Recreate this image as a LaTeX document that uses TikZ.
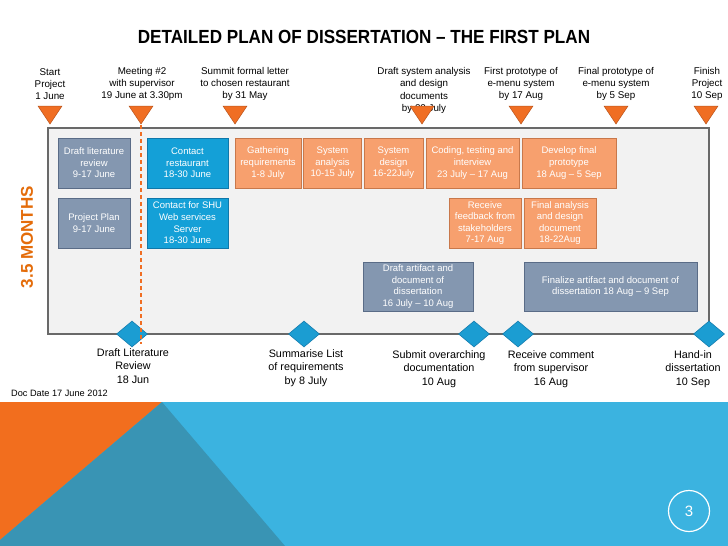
\documentclass[tikz,border=0pt]{standalone}
\usepackage{fontspec}
\setmainfont{Liberation Sans}
\usepackage{tikz}
\usetikzlibrary{shapes.geometric, positioning}
\definecolor{mkorange}{RGB}{240,110,35}
\definecolor{mkline}{RGB}{185,85,30}
\definecolor{monthorange}{RGB}{228,108,10}
\definecolor{greyfill}{RGB}{132,151,176}
\definecolor{greyline}{RGB}{90,108,135}
\definecolor{bluefill}{RGB}{20,160,215}
\definecolor{blueline}{RGB}{15,120,170}
\definecolor{orangefill}{RGB}{247,160,110}
\definecolor{orangeline}{RGB}{200,120,75}
\definecolor{panelfill}{RGB}{242,242,242}
\definecolor{panelline}{RGB}{105,105,105}
\definecolor{msfill}{RGB}{27,157,210}
\definecolor{msline}{RGB}{20,125,175}
\definecolor{bandblue}{RGB}{59,179,224}
\definecolor{bandteal}{RGB}{57,148,180}
\definecolor{bandorange}{RGB}{242,110,30}
\tikzset{
  greybox/.style={rectangle, draw=greyline, fill=greyfill, text=white,
    align=center, inner sep=1pt, line width=0.8pt,
    font=\fontsize{9.5}{11.6}\selectfont},
  bluebox/.style={greybox, draw=blueline, fill=bluefill},
  orangebox/.style={greybox, draw=orangeline, fill=orangefill},
  milestone/.style={diamond, draw=msline, fill=msfill, line width=0.6pt,
    minimum width=31pt, minimum height=26pt, inner sep=0pt},
  toplabel/.style={align=center, inner sep=0pt,
    font=\fontsize{9.8}{12.3}\selectfont},
  bottomlabel/.style={align=center, inner sep=0pt,
    font=\fontsize{10.8}{13.3}\selectfont},
  marker/.style={fill=mkorange, draw=mkline, line width=0.5pt},
  panel/.style={fill=panelfill, draw=panelline, line width=1.6pt}
}
\begin{document}
\begin{tikzpicture}[x=1pt, y=-1pt]
  \useasboundingbox (0,0) rectangle (728,546);
  \fill[white] (0,0) rectangle (728,546);
  \node[font=\bfseries\fontsize{19}{22}\selectfont] (title) at (364,37)
    {\scalebox{0.9}[1]{DETAILED PLAN OF DISSERTATION – THE FIRST PLAN}};

  \node[toplabel] (t1) at (50,84) {Start\\Project\\1 June};
  \node[toplabel] (t2) at (142,84) {Meeting \#2\\with supervisor\\19 June at 3.30pm};
  \node[toplabel] (t3) at (245,84) {Summit formal letter\\to chosen restaurant\\by 31 May};
  \node[toplabel] (t4) at (424,90.5) {Draft system analysis\\and design\\documents\\by 22 July};
  \node[toplabel] (t5) at (521,84) {First prototype of\\e-menu system\\by 17 Aug};
  \node[toplabel] (t6) at (616,84) {Final prototype of\\e-menu system\\by 5 Sep};
  \node[toplabel] (t7) at (707,84) {Finish\\Project\\10 Sep};
  \foreach \tx in {50,141,235,422,521,616,706}
    \filldraw[marker] (\tx-12,106) -- (\tx+12,106) -- (\tx,124) -- cycle;

  \filldraw[panel] (48,128) rectangle (709,334);

  \node[rotate=90, text=monthorange, font=\bfseries\fontsize{17}{20}\selectfont]
    (months) at (27,237) {3.5 MONTHS};

  \node[greybox, minimum width=72pt, minimum height=50pt] (lit) at (94,163)
    {Draft literature\\review\\9-17 June};
  \node[bluebox, minimum width=81pt, minimum height=50pt] (rest) at (187.5,163)
    {Contact\\restaurant\\18-30 June};
  \node[orangebox, minimum width=66pt, minimum height=50pt] (gather) at (268,163)
    {Gathering\\requirements\\1-8 July};
  \node[orangebox, minimum width=58pt, minimum height=50pt] (sysan) at (332.5,163)
    {System\\analysis\\10-15 July};
  \node[orangebox, minimum width=59pt, minimum height=50pt] (sysdes) at (393.5,163)
    {System\\design\\16-22July};
  \node[orangebox, minimum width=93pt, minimum height=50pt] (coding) at (472.5,163)
    {Coding, testing and\\interview\\23 July – 17 Aug};
  \node[orangebox, minimum width=94pt, minimum height=50pt] (devel) at (569,163)
    {Develop final\\prototype\\18 Aug – 5 Sep};

  \node[greybox, minimum width=72pt, minimum height=50pt] (plan) at (94,223)
    {Project Plan\\9-17 June};
  \node[bluebox, minimum width=81pt, minimum height=50pt] (shu) at (187.5,223)
    {Contact for SHU\\Web services\\Server\\18-30 June};
  \node[orangebox, minimum width=72pt, minimum height=50pt] (feedb) at (485,223)
    {Receive\\feedback from\\stakeholders\\7-17 Aug};
  \node[orangebox, minimum width=72pt, minimum height=50pt] (finan) at (560,223)
    {Final analysis\\and design\\document\\18-22Aug};

  \node[greybox, minimum width=110pt, minimum height=49pt] (artif) at (418,286.5)
    {Draft artifact and\\document of\\dissertation\\16 July – 10 Aug};
  \node[greybox, minimum width=173pt, minimum height=49pt] (finalz) at (610.5,286.5)
    {Finalize artifact and document of\\dissertation 18 Aug – 9 Sep};

  \node[milestone] (d1) at (132,334) {};
  \node[milestone] (d2) at (304,334) {};
  \node[milestone] (d3) at (474,334) {};
  \node[milestone] (d4) at (518,334) {};
  \node[milestone] (d5) at (709,334) {};

  \coordinate (dtop) at (141,125);
  \coordinate (dbot) at (141,344);
  \draw[mkorange, line width=1.1pt, dash pattern=on 4pt off 3pt] (dtop) -- (dbot);

  \node[bottomlabel] (b1) at (133,366) {Draft Literature\\Review\\18 Jun};
  \node[bottomlabel] (b2) at (306,368) {Summarise List\\of requirements\\by 8 July};
  \node[bottomlabel] (b3) at (439,369) {Submit overarching\\documentation\\10 Aug};
  \node[bottomlabel] (b4) at (551,369) {Receive comment\\from supervisor\\16 Aug};
  \node[bottomlabel] (b5) at (693,369) {Hand-in\\dissertation\\10 Sep};

  \node[anchor=west, inner sep=0pt, font=\fontsize{9.2}{11}\selectfont]
    (docdate) at (11,393) {Doc Date 17 June 2012};

  \fill[bandblue] (0,402) rectangle (728,546);
  \fill[bandorange] (0,402) -- (162,402) -- (0,540) -- cycle;
  \fill[bandteal] (162,402) -- (285,546) -- (0,546) -- (0,540) -- cycle;
  \node[circle, draw=white, line width=1.2pt, minimum size=41pt, text=white,
    font=\fontsize{15}{18}\selectfont] (page) at (689,511) {3};
\end{tikzpicture}
\end{document}
